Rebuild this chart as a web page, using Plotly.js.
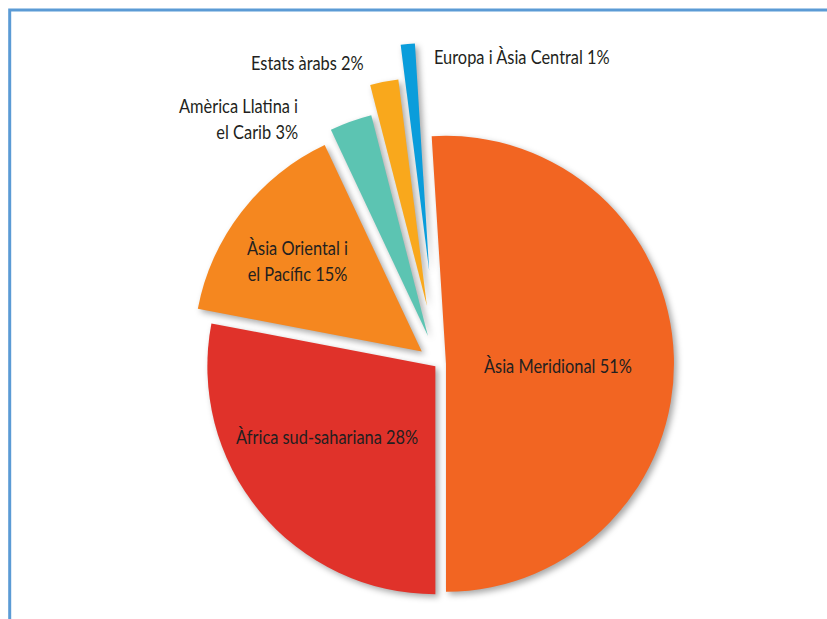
<!DOCTYPE html>
<html>
<head>
<meta charset="utf-8">
<script src="https://cdn.plot.ly/plotly-3.0.1.min.js"></script>
<style>
  html, body { margin: 0; padding: 0; width: 827px; height: 619px; overflow: hidden; background: #fff; }
  #chart { width: 827px; height: 740px; }
  g.slice path.surface { filter: drop-shadow(3px 3px 3px rgba(0,0,0,0.35)); }
  text.annotation-text { transform-box: fill-box; transform-origin: center; transform: scaleX(0.82); }
</style>
</head>
<body>
<div id="chart"></div>
<script>
// ---- data ----
const categories = ['Àsia Meridional', 'Àfrica sud-sahariana', 'Àsia Oriental i el Pacífic',
                    'Amèrica Llatina i el Carib', 'Estats àrabs', 'Europa i Àsia Central'];
const values = [51, 28, 15, 3, 2, 1];
const labelLines = ['Àsia Meridional', 'Àfrica sud-sahariana', 'Àsia Oriental i<br>el Pacífic',
                    'Amèrica Llatina i<br>el Carib', 'Estats àrabs', 'Europa i Àsia Central'];
const colors = ['#F26522', '#E0322A', '#F5871F', '#5CC4B2', '#F9A81C', '#0A9DDB'];
const pulls = [0.035, 0.015, 0.09, 0.13, 0.26, 0.41];

// ---- label placement (block centres, pixels in the 827 x 740 figure) ----
const W = 827, H = 740;
const labelPos = [
  {x: 558, y: 365, al: 'center'},
  {x: 327, y: 436, al: 'center'},
  {x: 297, y: 260, al: 'center'},
  {x: 238.5, y: 118, al: 'right'},
  {x: 307.5, y: 62, al: 'center'},
  {x: 521.5, y: 56, al: 'left'}
];

const font = {family: 'Lato, "Liberation Sans", sans-serif', size: 20, color: '#231F20'};

const annotations = labelLines.map((t, i) => ({
  xref: 'paper', yref: 'paper',
  x: labelPos[i].x / W, y: 1 - labelPos[i].y / H,
  xanchor: 'center', yanchor: 'middle', align: labelPos[i].al,
  text: t + ' ' + values[i] + '%',
  showarrow: false, font: font
}));

// pie centre and radius in pixels
const cx = 438, cy = 364, R = 228;
const maxPull = Math.max(...pulls);
const half = R * (1 + maxPull);

const trace = {
  type: 'pie',
  labels: categories,
  values: values,
  sort: false,
  direction: 'clockwise',
  rotation: -3.6,
  pull: pulls,
  marker: {colors: colors, line: {width: 0}},
  textinfo: 'none',
  hoverinfo: 'skip',
  domain: {x: [(cx - half) / W, (cx + half) / W], y: [1 - (cy + half) / H, 1 - (cy - half) / H]},
  showlegend: false
};

const layout = {
  width: W, height: H,
  margin: {l: 0, r: 0, t: 0, b: 0},
  paper_bgcolor: '#ffffff',
  showlegend: false,
  annotations: annotations,
  shapes: [{
    type: 'rect', xref: 'paper', yref: 'paper',
    x0: 9.7 / W, x1: 1.05, y0: -0.05, y1: 1 - 10 / H,
    line: {color: '#5B9BD5', width: 3}, fillcolor: 'rgba(0,0,0,0)', layer: 'above'
  }]
};

Plotly.newPlot('chart', [trace], layout, {displayModeBar: false, staticPlot: true});
</script>
</body>
</html>
